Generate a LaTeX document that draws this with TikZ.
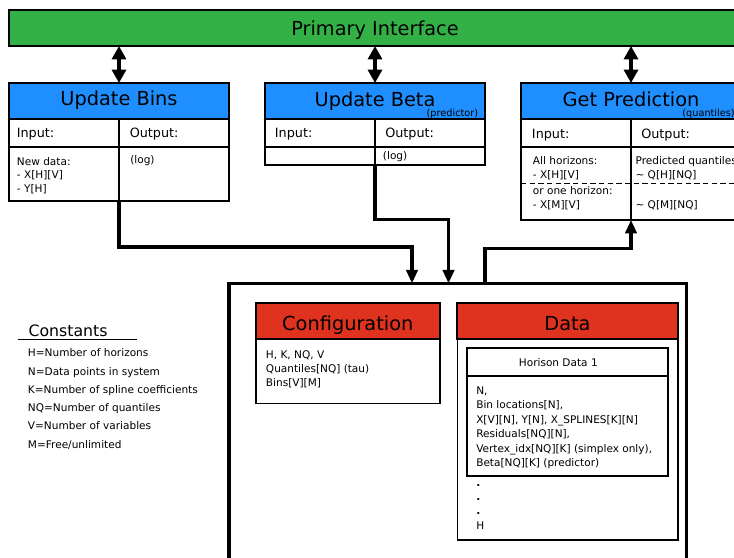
\documentclass[tikz,border=0pt]{standalone}
\usepackage{fontspec}
\setmainfont{DejaVu Sans}
\usetikzlibrary{arrows.meta}

\definecolor{ifgreen}{RGB}{52,177,70}
\definecolor{opblue}{RGB}{31,143,255}
\definecolor{stred}{RGB}{224,51,31}

\tikzset{
  box/.style={draw=black, line width=1.5pt, inner sep=0pt, outer sep=0pt},
  titletext/.style={font=\fontsize{14.5}{17}\selectfont, inner sep=0pt, anchor=base},
  headtext/.style={font=\fontsize{9.6}{11}\selectfont, inner sep=0pt, anchor=base west},
  smalltext/.style={font=\fontsize{7.9}{9.5}\selectfont, inner sep=0pt, anchor=base west},
  notetext/.style={font=\fontsize{7.3}{9}\selectfont, inner sep=0pt, anchor=base east},
  link/.style={line width=2.3pt, -{Triangle[length=10pt,width=8.5pt]}},
  twoway/.style={line width=2.3pt, {Triangle[length=10pt,width=10.5pt]}-{Triangle[length=10pt,width=10.5pt]}},
  sepline/.style={line width=1.1pt, dash pattern=on 4pt off 2.5pt},
}

% rectangle node given by its corners: [options]{name}{x1}{y1}{x2}{y2}
\newcommand\rectnode[6][]{%
  \node[box,#1,minimum width={(#5-#3)*0.75pt},minimum height={(#6-#4)*0.75pt}]
    (#2) at ({(#3+#5)/2},{(#4+#6)/2}) {};}

\begin{document}
\begin{tikzpicture}[x=0.75pt,y=-0.75pt]
\useasboundingbox (0,0) rectangle (734,557);
\clip (0,0) rectangle (734,557);

% ---- primary interface ----
\rectnode[fill=ifgreen]{prim}{9}{10}{741}{46}
\node[titletext] (primt) at (375,35) {Primary Interface};

% ---- Update Bins ----
\rectnode[fill=opblue]{ubh}{9}{83}{229}{119}
\rectnode{ubin}{9}{119}{119}{147}
\rectnode{ubout}{119}{119}{229}{147}
\rectnode{ubind}{9}{147}{119}{201}
\rectnode{uboutd}{119}{147}{229}{201}
\node[titletext] (ubt) at (119,105.5) {Update Bins};
\node[headtext] (ubi) at (16.5,137.7) {Input:};
\node[headtext] (ubo) at (129.5,137.7) {Output:};
\node[smalltext] (ub1) at (16.7,165) {New data:};
\node[smalltext] (ub2) at (16.7,178.5) {- X[H][V]};
\node[smalltext] (ub3) at (16.7,192) {- Y[H]};
\node[smalltext] (ub4) at (130,163) {(log)};

% ---- Update Beta ----
\rectnode[fill=opblue]{beh}{265}{83}{485}{119}
\rectnode{bein}{265}{119}{375}{147}
\rectnode{beout}{375}{119}{485}{147}
\rectnode{beind}{265}{147}{375}{165}
\rectnode{beoutd}{375}{147}{485}{165}
\node[titletext] (bet) at (375,106) {Update Beta};
\node[notetext] (ben) at (478.5,116) {(predictor)};
\node[headtext] (bei) at (274.7,137.5) {Input:};
\node[headtext] (beo) at (385,137.5) {Output:};
\node[smalltext] (be1) at (382.7,159.5) {(log)};

% ---- Get Prediction ----
\rectnode[fill=opblue]{gph}{521}{83}{741}{119}
\rectnode{gpin}{521}{119}{631}{147}
\rectnode{gpout}{631}{119}{741}{147}
\rectnode{gpind}{521}{147}{631}{220}
\rectnode{gpoutd}{631}{147}{741}{220}
\draw[sepline] (521,183.3) -- (741,183.3);
\node[titletext] (gpt) at (631,106) {Get Prediction};
\node[notetext] (gpn) at (735,116) {(quantiles)};
\node[headtext] (gpi) at (531.7,138) {Input:};
\node[headtext] (gpo) at (641,138) {Output:};
\node[smalltext] (gp1) at (532.7,164) {All horizons:};
\node[smalltext] (gp2) at (532.7,178) {- X[H][V]};
\node[smalltext] (gp3) at (532.7,194) {or one horizon:};
\node[smalltext] (gp4) at (532.7,208) {- X[M][V]};
\node[smalltext] (gp5) at (635.3,164) {Predicted quantiles};
\node[smalltext] (gp6) at (635.3,178) {\textasciitilde{} Q[H][NQ]};
\node[smalltext] (gp7) at (635.3,208) {\textasciitilde{} Q[M][NQ]};

% ---- two-way links to the primary interface ----
\draw[twoway] (prim.south -| ubh.north) -- (ubh.north);
\draw[twoway] (prim.south -| beh.north) -- (beh.north);
\draw[twoway] (prim.south -| gph.north) -- (gph.north);

% ---- storage block ----
\rectnode[line width=2.3pt]{core}{229}{283.3}{686.5}{600}

% configuration
\rectnode[fill=stred]{cfh}{256}{302.5}{439.7}{339.3}
\rectnode[line width=1.2pt]{cfb}{256}{339.3}{439.7}{403.3}
\node[titletext] (cft) at (347.8,330) {Configuration};
\node[smalltext] (cf1) at (265.7,358.3) {H, K, NQ, V};
\node[smalltext] (cf2) at (265.7,372.7) {Quantiles[NQ] (tau)};
\node[smalltext] (cf3) at (265.7,386.7) {Bins[V][M]};

% data
\rectnode[fill=stred]{dah}{457.3}{302.7}{677.7}{339.3}
\rectnode[line width=1.2pt]{dab}{457.3}{339.3}{677.7}{540}
\node[titletext] (dat) at (567.5,330) {Data};
\rectnode{hdh}{466.7}{348.3}{668.3}{376}
\rectnode{hdb}{466.7}{376}{668.3}{476}
\node[smalltext,anchor=base] (hdt) at (558.3,366.7) {Horison Data 1};
\node[smalltext] (hd1) at (476,394) {N,};
\node[smalltext] (hd2) at (476,408.5) {Bin locations[N],};
\node[smalltext] (hd3) at (476,423) {X[V][N], Y[N], X\_SPLINES[K][N]};
\node[smalltext] (hd4) at (476,437.7) {Residuals[NQ][N],};
\node[smalltext] (hd5) at (476,452.3) {Vertex\_idx[NQ][K] (simplex only),};
\node[smalltext] (hd6) at (476,466.7) {Beta[NQ][K] (predictor)};
\node[smalltext] (hd7) at (476,486) {\textbf{.}};
\node[smalltext] (hd8) at (476,500.5) {\textbf{.}};
\node[smalltext] (hd9) at (476,514.5) {\textbf{.}};
\node[smalltext] (hd10) at (476,529.3) {H};

% ---- links into and out of the storage block ----
\coordinate (binIn) at (412,283.3);
\coordinate (betaIn) at (448.5,283.3);
\coordinate (predOut) at (485,283.3);
\draw[link] (ubind.south east) -- ++(0,46) -| (binIn);
\draw[link] (beoutd.south west) -- ++(0,54.5) -| (betaIn);
\draw[link] (predOut) -- ++(0,-35) -| (gpind.south east);

% ---- constants ----
\node[font=\fontsize{11.8}{14}\selectfont, inner sep=0pt, anchor=base west] (cst) at (28.3,336) {Constants};
\draw[line width=1.1pt] (17.5,339.5) -- (137.3,339.5);
\foreach \t [count=\i] in {{H=Number of horizons},{N=Data points in system},
    {K=Number of spline coefficients},{NQ=Number of quantiles},
    {V=Number of variables},{M=Free/unlimited}}
  \node[smalltext] (cs\i) at (27.7,{356.7+(\i-1)*18.3}) {\t};
\end{tikzpicture}
\end{document}
